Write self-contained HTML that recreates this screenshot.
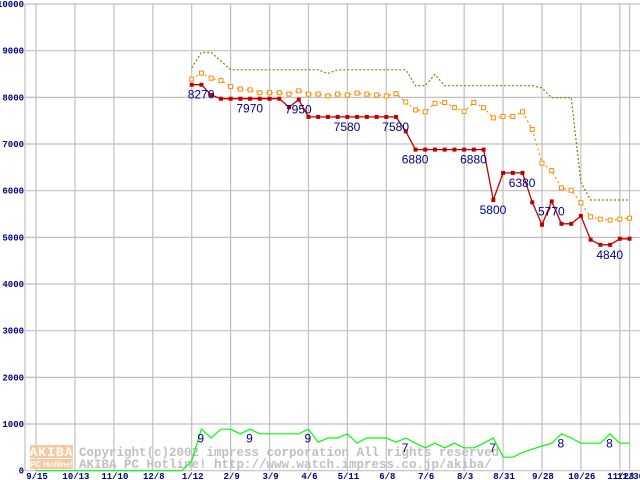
<!DOCTYPE html>
<html><head><meta charset="utf-8"><style>
html,body{margin:0;padding:0;background:#fff;}
svg{display:block;}
</style></head><body>
<svg id="chart" width="640" height="480" xmlns="http://www.w3.org/2000/svg" font-family="Liberation Mono, monospace"></svg>
<script>
const xLabels=['9/15','10/13','11/10','12/8','1/12','2/9','3/9','4/6','5/11','6/8','7/6','8/3','8/31','9/28','10/26','11/23','11/30'];
const xLabelIdx=[-16,-12,-8,-4,0,4,8,12,16,20,24,28,32,36,40,44,45];
const yTicks=[0,1000,2000,3000,4000,5000,6000,7000,8000,9000,10000];
const minPrice=[8270,8270,8050,7970,7970,7970,7970,7970,7970,7970,7790,7950,7580,7580,7580,7580,7580,7580,7580,7580,7580,7580,7270,6880,6880,6880,6880,6880,6880,6880,6880,5800,6380,6380,6380,5750,5270,5770,5290,5290,5460,4950,4840,4840,4970,4970];
const avgPrice=[8390,8520,8410,8360,8230,8180,8160,8100,8100,8100,8070,8140,8070,8070,8030,8070,8050,8090,8070,8050,8030,8080,7900,7730,7690,7870,7890,7780,7700,7890,7780,7560,7590,7590,7690,7310,6590,6430,6060,6010,5740,5440,5390,5370,5390,5410];
const maxPrice=[8630,8960,8960,8780,8590,8590,8590,8590,8590,8590,8590,8590,8590,8590,8510,8590,8590,8590,8590,8590,8590,8590,8590,8250,8250,8490,8250,8250,8250,8250,8250,8250,8250,8250,8250,8250,8200,7990,7990,7990,6180,5800,5800,5800,5800,5800];
const greenStart=-16;
const shopCount=[0,0,0,0,0,0,0,0,0,0,0,0,0,0,0,0,210,890,700,890,890,790,890,790,790,790,790,790,890,610,700,700,790,590,700,700,700,610,700,590,490,590,490,590,490,490,590,700,290,290,390,460,530,590,790,700,590,590,590,790,590,590];
const minLabelIdx=[0,5,10,15,20,22,28,30,33,36,42];
const minLabelText=['8270','7970','7950','7580','7580','6880','6880','5800','6380','5770','4840'];
const greenLabelIdx=[1,6,12,22,31,38,43];
const greenLabelText=['9','9','9','7','7','8','8'];

const svg=document.getElementById('chart');
const NS='http://www.w3.org/2000/svg';
const X=i=>191.7+i*9.73;
const Y=v=>470.7-v*0.04667;
function mk(tag,attrs,parent){const e=document.createElementNS(NS,tag);for(const k in attrs)e.setAttribute(k,attrs[k]);(parent||svg).appendChild(e);return e;}

// grid
const grid=mk('g',{});


yTicks.forEach(v=>{mk('line',{x1:25,x2:640,y1:Y(v),y2:Y(v),stroke:'#c0c0c0','stroke-width':1.2},grid);});
xLabelIdx.forEach(i=>{mk('line',{x1:X(i),x2:X(i),y1:Y(10000),y2:471,stroke:'#c0c0c0','stroke-width':1.2},grid);});
mk('line',{x1:25,x2:25,y1:Y(10000),y2:471,stroke:'#c0c0c0','stroke-width':1.2},grid);

// y labels
yTicks.forEach(v=>{const t=mk('text',{x:24,y:Y(v)+3,'text-anchor':'end','font-size':9,'font-weight':'bold',fill:'#000080'});t.textContent=String(v);

});
// x labels
xLabels.forEach((s,k)=>{const t=mk('text',{x:X(xLabelIdx[k])+1,y:479,'text-anchor':'middle','font-size':9,'font-weight':'bold',fill:'#000080'});t.textContent=s;

});

// watermark
const wm=mk('g',{});


mk('rect',{x:30,y:445,width:43,height:13,fill:'#f8c8a0'},wm);
mk('rect',{x:30,y:459,width:43,height:10,fill:'#f8c8a0'},wm);
let t=mk('text',{x:51.5,y:456,'text-anchor':'middle','font-size':13,'font-weight':'bold',fill:'#fff','letter-spacing':'1'},wm);t.textContent='AKIBA';
t=mk('text',{x:51.5,y:467,'text-anchor':'middle','font-size':8,'font-weight':'bold',fill:'#fff','font-family':'Liberation Sans, sans-serif'},wm);t.textContent='PC Hotline!';
t=mk('text',{x:79,y:456,'font-size':12.5,'font-weight':'bold',fill:'#c0c0c0'},wm);t.textContent='Copyright(c)2002 impress corporation All rights reserved';
t=mk('text',{x:79,y:468,'font-size':12.5,'font-weight':'bold',fill:'#c0c0c0','xml:space':'preserve'},wm);t.textContent='AKIBA PC Hotline!  http://www.watch.impress.co.jp/akiba/';

function pts(arr,start){return arr.map((v,k)=>X(k+start).toFixed(1)+','+Y(v).toFixed(1)).join(' ');}
// green
const g=mk('polyline',{points:pts(shopCount,greenStart),fill:'none',stroke:'#00ff00','stroke-width':1.2});


// max
const mx=mk('polyline',{points:pts(maxPrice,0),fill:'none',stroke:'#808000','stroke-width':1.2,'stroke-dasharray':'2,2'});


// avg
const av=mk('polyline',{points:pts(avgPrice,0),fill:'none',stroke:'#ff8c00','stroke-width':1.2,'stroke-dasharray':'2,3'});


avgPrice.forEach((v,i)=>{const r=mk('rect',{x:X(i)-2,y:Y(v)-2,width:4,height:4,fill:'#fff',stroke:'#ff8c00','stroke-width':1});

});
// min
const mn=mk('polyline',{points:pts(minPrice,0),fill:'none',stroke:'#c00000','stroke-width':1.3});


minPrice.forEach((v,i)=>{const r=mk('rect',{x:X(i)-2,y:Y(v)-2,width:4,height:4,fill:'#c00000'});

});
// labels
minLabelIdx.forEach((i,k)=>{const s=minLabelText[k];const e=mk('text',{x:X(i)-4,y:Y(+s)+14,'font-size':12,fill:'#000080','font-family':'Liberation Sans, sans-serif'});e.textContent=s;

});
greenLabelIdx.forEach((i,k)=>{const s=greenLabelText[k];const e=mk('text',{x:X(i)-4,y:Y(+s*100)+14,'font-size':12,fill:'#000080','font-family':'Liberation Sans, sans-serif'});e.textContent=s;

});
</script>
</body></html>
